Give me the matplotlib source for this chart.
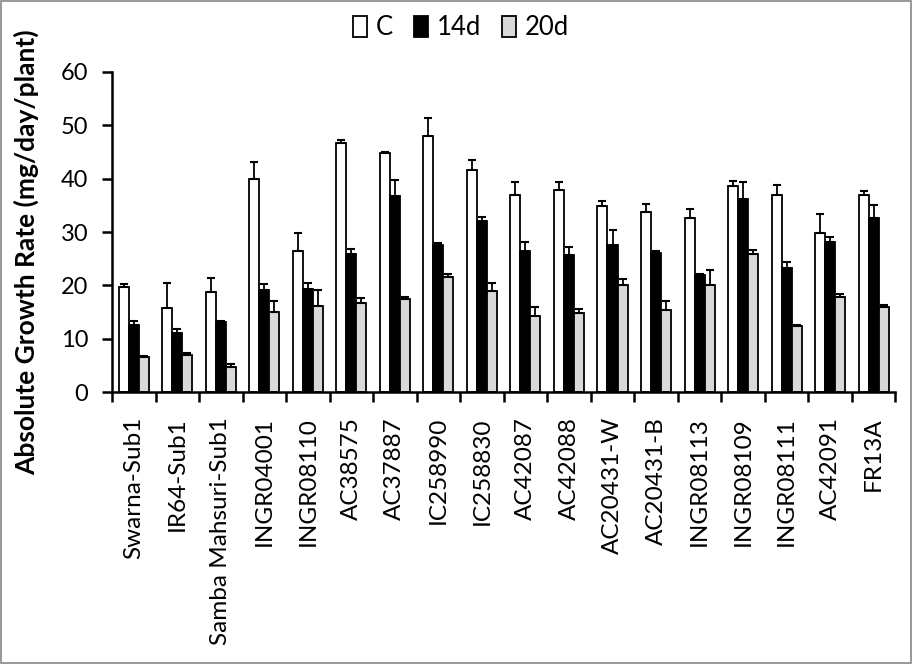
import numpy as np
import matplotlib
matplotlib.use("Agg")
import matplotlib.pyplot as plt
from matplotlib.patches import Rectangle

# genotypes
genotypes = ["Swarna-Sub1", "IR64-Sub1", "Samba Mahsuri-Sub1", "INGR04001", "INGR08110",
             "AC38575", "AC37887", "IC258990", "IC258830", "AC42087", "AC42088",
             "AC20431-W", "AC20431-B", "INGR08113", "INGR08109", "INGR08111",
             "AC42091", "FR13A"]

# absolute growth rate (mg/day/plant)
c_vals = [19.6, 15.8, 18.7, 39.9, 26.5, 46.7, 44.8, 48.0, 41.6, 36.9, 37.8,
          34.8, 33.7, 32.7, 38.6, 36.9, 29.9, 36.9]
d14_vals = [12.5, 11.0, 13.1, 19.1, 19.4, 25.8, 36.8, 27.6, 32.1, 26.4, 25.7,
            27.6, 26.0, 21.9, 36.1, 23.2, 28.1, 32.6]
d20_vals = [6.5, 7.0, 4.6, 15.0, 16.2, 16.6, 17.5, 21.5, 18.9, 14.3, 14.9,
            20.0, 15.3, 20.0, 25.8, 12.4, 17.9, 16.0]

# upper error bars
c_err = [0.7, 4.7, 2.6, 3.2, 3.4, 0.5, 0.2, 3.3, 1.9, 2.4, 1.5, 1.0, 1.5, 1.7, 0.9, 1.9, 3.4, 0.7]
d14_err = [0.9, 0.9, 0.2, 1.1, 1.1, 1.1, 3.0, 0.3, 0.7, 1.7, 1.4, 2.7, 0.4, 0.3, 3.2, 1.1, 0.9, 2.4]
d20_err = [0.3, 0.3, 0.7, 2.0, 2.9, 1.1, 0.4, 0.6, 1.5, 1.7, 0.6, 1.1, 1.7, 2.8, 0.9, 0.1, 0.4, 0.4]

plt.rcParams['font.family'] = ['Lato', 'DejaVu Sans']

fig = plt.figure(figsize=(9.13, 6.64), dpi=100)
ax = fig.add_axes([0.1227, 0.4096, 0.858, 0.482])

x = np.arange(len(genotypes))
w = 0.23
series = [(c_vals, c_err, "white", "C"),
          (d14_vals, d14_err, "black", "14d"),
          (d20_vals, d20_err, "#d9d9d9", "20d")]
for k, (vals, err, col, lab) in enumerate(series):
    vals = np.array(vals)
    err = np.array(err)
    ax.bar(x + (k - 1) * w, vals, w, color=col, edgecolor="black", linewidth=1.3,
           label=lab, yerr=[np.zeros_like(err), err],
           error_kw=dict(ecolor="black", elinewidth=1.3, capsize=3, capthick=1.5))

ax.set_xlim(-0.5, len(genotypes) - 0.5)
ax.set_ylim(0, 60)
ax.set_yticks(range(0, 61, 10))
ax.tick_params(axis="y", labelsize=17, length=7, width=1.8, direction="out", pad=10)

# ticks at the group boundaries, labels at the centres
ax.set_xticks(np.arange(-0.5, len(genotypes), 1.0))
ax.set_xticklabels([])
ax.tick_params(axis="x", which="major", length=7, width=1.8, direction="out")
ax.set_xticks(x, minor=True)
ax.set_xticklabels(genotypes, minor=True, rotation=90, fontsize=17.5)
ax.tick_params(axis="x", which="minor", length=0, pad=18)

for s in ["top", "right"]:
    ax.spines[s].set_visible(False)
for s in ["left", "bottom"]:
    ax.spines[s].set_linewidth(1.8)

fig.text(0.029, 0.62, "Absolute Growth Rate (mg/day/plant)", rotation=90,
         fontsize=19, fontweight="bold", ha="center", va="center")

fig.legend(*ax.get_legend_handles_labels(), loc="center", bbox_to_anchor=(0.505, 0.958),
           ncol=3, frameon=False, fontsize=18.5, handlelength=0.55, handleheight=0.85,
           handletextpad=0.35, columnspacing=0.8, borderpad=0)

fig.patches.append(Rectangle((0.001, 0.001), 0.997, 0.997, transform=fig.transFigure,
                             fill=False, edgecolor="#888888", linewidth=1.2))

fig.savefig("out.png", dpi=100)
